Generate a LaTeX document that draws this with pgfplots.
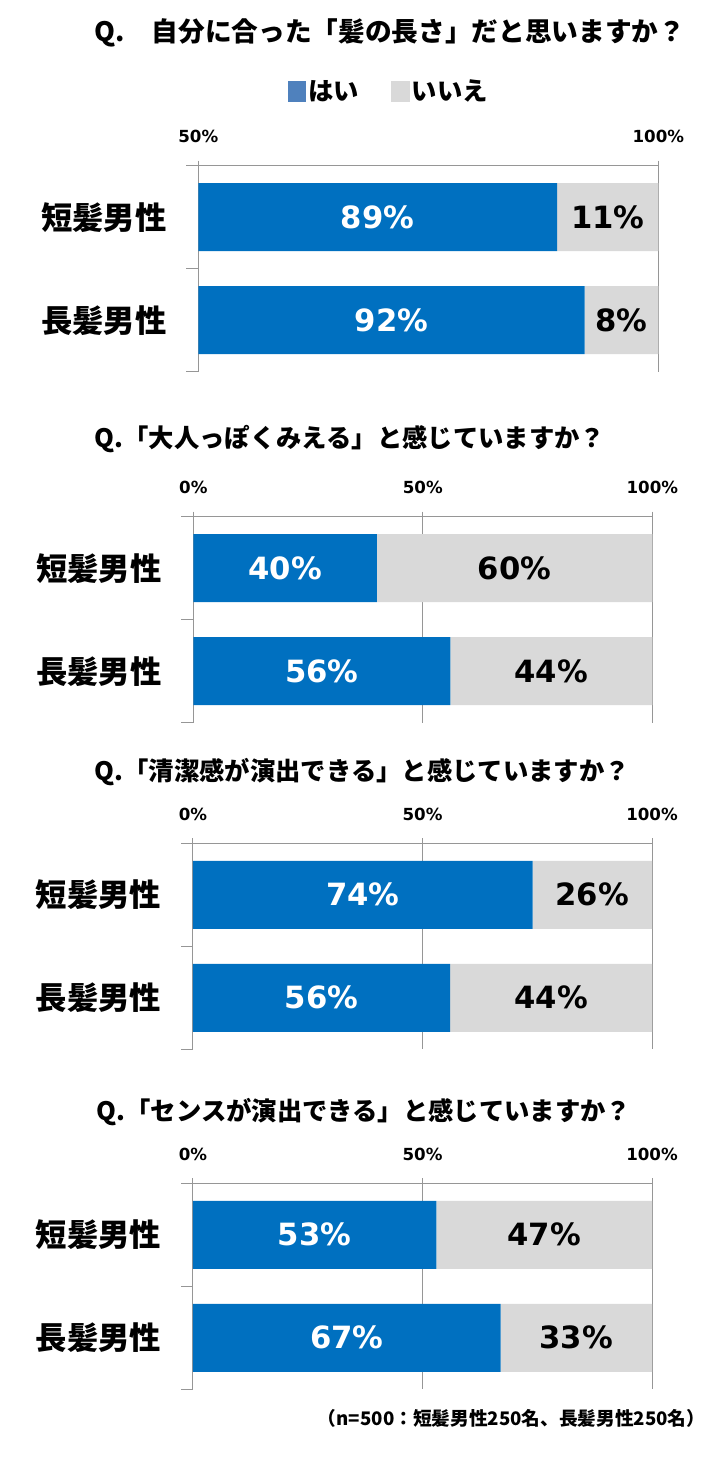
\documentclass[border=0pt]{standalone}
\usepackage{fontspec}
\usepackage{pgfplots}
\usepackage{pgfplotstable}
\pgfplotsset{compat=1.18}
\setmainfont{Noto Sans CJK JP}
\newfontfamily\numfont{DejaVu Sans}

\definecolor{barblue}{HTML}{0070C0}
\definecolor{bargray}{HTML}{D9D9D9}
\definecolor{legblue}{HTML}{4F81BD}
\definecolor{linegray}{HTML}{969696}

% 0 = short hair, 1 = long hair
\pgfplotstableread{
idx yes no
0   89  11
1   92  8
}\dataA
\pgfplotstableread{
idx yes no
0   40  60
1   56  44
}\dataB
\pgfplotstableread{
idx yes no
0   74  26
1   56  44
}\dataC
\pgfplotstableread{
idx yes no
0   53  47
1   67  33
}\dataD

\pgfplotsset{
  frame/.style={scale only axis, anchor=north west, height=154.5pt,
    ymin=-0.5, ymax=1.5, y dir=reverse},
  panel/.style={frame,
    xbar stacked, bar width=51pt,
    axis x line*=top, axis y line*=left,
    axis line style={linegray, line width=0.75pt},
    xmajorgrids, grid style={linegray, line width=0.75pt},
    major tick length=3.75pt, tick align=outside,
    xtick style={linegray, line width=0.75pt},
    ytick={0,1}, yticklabels={短髪男性,長髪男性},
    ytick style={draw=none},
    extra y ticks={-0.5,0.5,1.5}, extra y tick labels={},
    extra y tick style={major tick length=9pt, ytick style={draw=linegray, line width=0.75pt}},
    yticklabel style={font=\bfseries\fontsize{23.5}{25}\selectfont, inner sep=0pt, xshift=-20pt},
    xticklabel style={font=\numfont\bfseries\fontsize{12.5}{14}\selectfont, anchor=center, yshift=18pt},
  },
  full/.style={width=344.25pt, xmin=0, xmax=100},
  fullticks/.style={xtick={0,50,100}, xticklabels={0\%,50\%,100\%}},
  % second, hidden axis on top that carries the value labels
  labels/.style={frame, hide axis, clip=false},
  lab/.style={draw=none, mark=none,
    point meta=explicit symbolic, nodes near coords={\pgfplotspointmeta\%},
    every node near coord/.append style={font=\numfont\bfseries\fontsize{23}{26}\selectfont,
      anchor=center, inner sep=0pt, text=#1}},
}

\begin{document}
\begin{tikzpicture}[x=0.75pt, y=-0.75pt]
\path[use as bounding box] (0,0) rectangle (720,1463);

% panel 1
\node[anchor=west, font=\bfseries\fontsize{20}{22}\selectfont] at (90,33) {Q.　自分に合った「髪の長さ」だと思いますか？};
\begin{axis}[panel, at={(148.725pt,-124.275pt)}, width=345pt, xmin=50, xmax=100,
  xtick={50,100}, xticklabels={50\%,100\%},
  legend columns=2,
  legend style={at={(0.415,1.36)}, anchor=center, draw=none, fill=none,
    font=\bfseries\fontsize{19}{21}\selectfont,
    /tikz/every even column/.append style={column sep=22pt}}]
\addplot[fill=barblue, draw=none, forget plot] table[x=yes, y=idx] {\dataA};
\addplot[fill=bargray, draw=none, forget plot] table[x=no, y=idx] {\dataA};
\addlegendimage{legend image code/.code={\fill[legblue] (0pt,-7.5pt) rectangle (13pt,7.5pt);}}
\addlegendentry{はい}
\addlegendimage{legend image code/.code={\fill[bargray] (0pt,-7.5pt) rectangle (13pt,7.5pt);}}
\addlegendentry{いいえ}
\end{axis}
\begin{axis}[labels, at={(148.725pt,-124.275pt)}, width=345pt, xmin=50, xmax=100]
\addplot[lab=white] table[x expr={(\thisrow{yes}+50)/2}, y=idx, meta=yes] {\dataA};
\addplot[lab=black] table[x expr={100-\thisrow{no}/2}, y=idx, meta=no] {\dataA};
\end{axis}

% panel 2
\node[anchor=west, font=\bfseries\fontsize{19}{21}\selectfont] at (90,439) {Q.「大人っぽくみえる」と感じていますか？};
\begin{axis}[panel, full, fullticks, at={(144.975pt,-387.525pt)}]
\addplot[fill=barblue, draw=none] table[x=yes, y=idx] {\dataB};
\addplot[fill=bargray, draw=none] table[x=no, y=idx] {\dataB};
\end{axis}
\begin{axis}[labels, full, at={(144.975pt,-387.525pt)}]
\addplot[lab=white] table[x expr={\thisrow{yes}/2}, y=idx, meta=yes] {\dataB};
\addplot[lab=black] table[x expr={100-\thisrow{no}/2}, y=idx, meta=no] {\dataB};
\end{axis}

% panel 3
\node[anchor=west, font=\bfseries\fontsize{19}{21}\selectfont] at (90,772) {Q.「清潔感が演出できる」と感じていますか？};
\begin{axis}[panel, full, fullticks, at={(144.75pt,-632.475pt)}]
\addplot[fill=barblue, draw=none] table[x=yes, y=idx] {\dataC};
\addplot[fill=bargray, draw=none] table[x=no, y=idx] {\dataC};
\end{axis}
\begin{axis}[labels, full, at={(144.75pt,-632.475pt)}]
\addplot[lab=white] table[x expr={\thisrow{yes}/2}, y=idx, meta=yes] {\dataC};
\addplot[lab=black] table[x expr={100-\thisrow{no}/2}, y=idx, meta=no] {\dataC};
\end{axis}

% panel 4
\node[anchor=west, font=\bfseries\fontsize{19}{21}\selectfont] at (92,1112) {Q.「センスが演出できる」と感じていますか？};
\begin{axis}[panel, full, fullticks, at={(144.75pt,-887.475pt)}]
\addplot[fill=barblue, draw=none] table[x=yes, y=idx] {\dataD};
\addplot[fill=bargray, draw=none] table[x=no, y=idx] {\dataD};
\end{axis}
\begin{axis}[labels, full, at={(144.75pt,-887.475pt)}]
\addplot[lab=white] table[x expr={\thisrow{yes}/2}, y=idx, meta=yes] {\dataD};
\addplot[lab=black] table[x expr={100-\thisrow{no}/2}, y=idx, meta=no] {\dataD};
\end{axis}

\node[anchor=east, font=\bfseries\fontsize{14}{16}\selectfont] at (710,1418) {（n=500：短髪男性250名、長髪男性250名）};
\end{tikzpicture}
\end{document}
